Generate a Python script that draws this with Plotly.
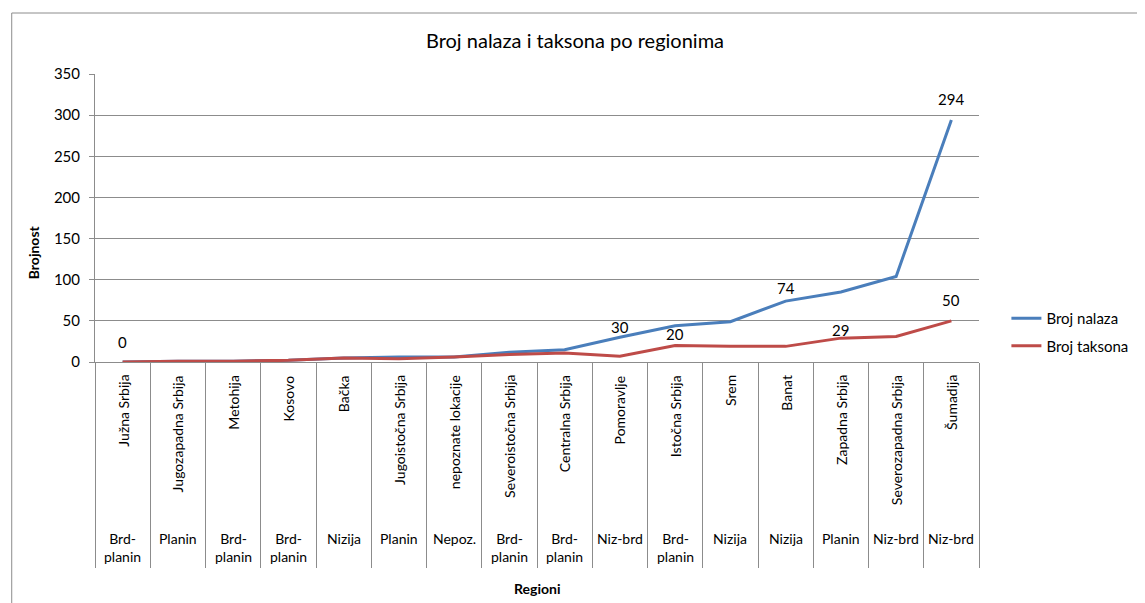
import plotly.graph_objects as go

regioni = ["Južna Srbija", "Jugozapadna Srbija", "Metohija", "Kosovo", "Bačka",
           "Jugoistočna Srbija", "nepoznate lokacije", "Severoistočna Srbija",
           "Centralna Srbija", "Pomoravlje", "Istočna Srbija", "Srem", "Banat",
           "Zapadna Srbija", "Severozapadna Srbija", "Šumadija"]
tipovi = ["Brd-planin", "Planin", "Brd-planin", "Brd-planin", "Nizija", "Planin",
          "Nepoz.", "Brd-planin", "Brd-planin", "Niz-brd", "Brd-planin", "Nizija",
          "Nizija", "Planin", "Niz-brd", "Niz-brd"]
broj_nalaza = [0, 1, 1, 2, 5, 6, 6, 12, 15, 30, 44, 49, 74, 85, 104, 294]
broj_taksona = [0, 1, 1, 2, 5, 4, 6, 9, 11, 7, 20, 19, 19, 29, 31, 50]
# oznake vrednosti koje su prikazane na grafikonu
oznake_nalaza = ["0", "", "", "", "", "", "", "", "", "30", "", "", "74", "", "", "294"]
oznake_taksona = ["", "", "", "", "", "", "", "", "", "", "20", "", "", "29", "", "50"]

PLAVA = "#4A7EBB"
CRVENA = "#BE4B48"
SIVA = "#8C8C8C"
FONT = "Lato"

fig = go.Figure()
fig.add_trace(go.Scatter(x=regioni, y=broj_nalaza, mode="lines", name="Broj nalaza",
                         line=dict(color=PLAVA, width=3), legendgroup="a"))
fig.add_trace(go.Scatter(x=regioni, y=broj_taksona, mode="lines", name="Broj taksona",
                         line=dict(color=CRVENA, width=3), legendgroup="b"))

ann = []
# oznake vrednosti
pomaci = {"0": 20, "30": 10, "74": 13, "294": 21, "20": 12, "29": 8, "50": 21}
for reg, v, t in zip(regioni, broj_nalaza, oznake_nalaza):
    if t:
        ann.append(dict(x=reg, y=v, xref="x", yref="y", text=t, showarrow=False,
                        yanchor="middle", yshift=pomaci[t], font=dict(size=15)))
for reg, v, t in zip(regioni, broj_taksona, oznake_taksona):
    if t:
        ann.append(dict(x=reg, y=v, xref="x", yref="y", text=t, showarrow=False,
                        yanchor="middle", yshift=pomaci[t], font=dict(size=15)))

# nazivi regiona (rotirani) i tip reljefa ispod
for reg, tip in zip(regioni, tipovi):
    ann.append(dict(x=reg, y=0, xref="x", yref="paper", text=reg, showarrow=False,
                    textangle=-90, yanchor="top", yshift=-11, font=dict(size=14)))
    ann.append(dict(x=reg, y=0, xref="x", yref="paper", text=tip.replace("-p", "-<br>p"),
                    showarrow=False, yanchor="top", yshift=-166, font=dict(size=14)))

ann.append(dict(x=0.5, y=-0.785, xref="paper", yref="paper", text="Regioni",
                showarrow=False, yanchor="middle", font=dict(size=14, weight="bold")))
ann.append(dict(x=-0.0687, y=0.382, xref="paper", yref="paper", text="Brojnost",
                showarrow=False, textangle=-90, xanchor="center", yanchor="middle",
                font=dict(size=14, weight="bold")))

# stranica ima 8px margine, pa je figura pomerena za toliko
fig.update_layout(
    width=1137, height=595,
    margin=dict(l=87, r=148, t=66, b=241),
    paper_bgcolor="white", plot_bgcolor="white",
    font=dict(family=FONT, size=15, color="black"),
    title=dict(text="Broj nalaza i taksona po regionima", x=0.4987, xanchor="center",
               y=0.9445, yanchor="middle", font=dict(size=20)),
    legend=dict(x=1.031, xanchor="left", y=0.104, yanchor="middle",
                tracegroupgap=5, font=dict(size=15), bgcolor="rgba(0,0,0,0)"),
    annotations=ann,
    shapes=[dict(type="rect", xref="paper", yref="paper", x0=-0.0942, x1=1.3,
                 y0=-1.0, y1=1.2118, line=dict(color=SIVA, width=1))],
)
fig.update_xaxes(type="category", categoryorder="array", categoryarray=regioni,
                 range=[-0.5, 15.5], showticklabels=False, showgrid=False,
                 ticks="outside", tickson="boundaries", ticklen=205, tickcolor=SIVA,
                 showline=True, linecolor=SIVA, linewidth=1, zeroline=False)
fig.update_yaxes(range=[0, 350], dtick=50, showgrid=True, gridcolor=SIVA, gridwidth=1,
                 showline=True, linecolor=SIVA, linewidth=1, ticks="outside", ticklen=5,
                 tickcolor=SIVA, zeroline=False, tickfont=dict(size=15), ticklabelstandoff=6)

fig.write_html("out.html")
